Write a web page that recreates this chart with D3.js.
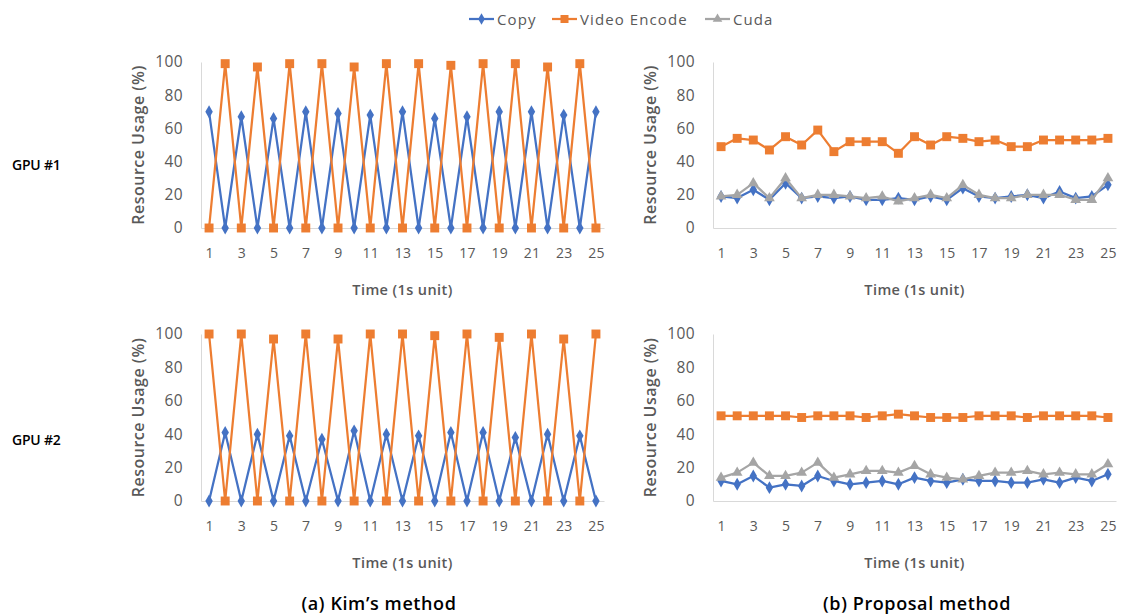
<!DOCTYPE html>
<html><head><meta charset="utf-8">
<script src="https://cdn.jsdelivr.net/npm/d3@7"></script>
<style>
body{margin:0;background:#fff;}
svg text{font-family:"Open Sans","Noto Sans",sans-serif;}
</style></head>
<body><svg id="c" width="1121" height="616"></svg>
<script>
const times = d3.range(1, 26);
const xTickLabels = [1,3,5,7,9,11,13,15,17,19,21,23,25];
const yTicks = [0,20,40,60,80,100];
const seriesNames = ["Copy","Video Encode","Cuda"];

// (a) Kim's method, GPU #1
const kimG1Copy  = [70,0,67,0,66,0,70,0,69,0,68,0,70,0,66,0,67,0,70,0,70,0,68,0,70];
const kimG1Video = [0,99,0,97,0,99,0,99,0,97,0,99,0,99,0,98,0,99,0,99,0,97,0,99,0];
// (a) Kim's method, GPU #2
const kimG2Copy  = [0,41,0,40,0,39,0,37,0,42,0,40,0,39,0,41,0,41,0,38,0,40,0,39,0];
const kimG2Video = [100,0,100,0,97,0,100,0,97,0,100,0,100,0,99,0,100,0,98,0,100,0,97,0,100];
// (b) Proposal method, GPU #1
const propG1Copy  = [19,18,23,17,27,18,19,18,19,17,17,18,17,19,17,24,19,18,19,20,18,22,18,19,26];
const propG1Video = [49,54,53,47,55,50,59,46,52,52,52,45,55,50,55,54,52,53,49,49,53,53,53,53,54];
const propG1Cuda  = [19,20,27,18,30,18,20,20,19,18,19,16,18,20,18,26,20,18,18,20,20,20,17,17,30];
// (b) Proposal method, GPU #2
const propG2Copy  = [12,10,15,8,10,9,15,12,10,11,12,10,14,12,11,13,12,12,11,11,13,11,14,12,16];
const propG2Video = [51,51,51,51,51,50,51,51,51,50,51,52,51,50,50,50,51,51,51,50,51,51,51,51,50];
const propG2Cuda  = [14,17,23,15,15,17,23,14,16,18,18,17,21,16,14,13,15,17,17,18,16,17,16,16,22];

const colors = {"Copy":"#4472C4","Video Encode":"#ED7D31","Cuda":"#A5A5A5"};
const symbols = {"Copy":d3.symbolDiamond,"Video Encode":d3.symbolSquare,"Cuda":d3.symbolTriangle};
const symSize = {"Copy":48,"Video Encode":80,"Cuda":50};
const txtCol = "#595959";

const svg = d3.select("#c");

const panels = [
  {x0:201, x1:604, yTop:62, yBot:228, series:[["Copy",kimG1Copy],["Video Encode",kimG1Video]]},
  {x0:713, x1:1116, yTop:62, yBot:228, series:[["Copy",propG1Copy],["Video Encode",propG1Video],["Cuda",propG1Cuda]]},
  {x0:201, x1:604, yTop:334, yBot:501, series:[["Copy",kimG2Copy],["Video Encode",kimG2Video]]},
  {x0:713, x1:1116, yTop:334, yBot:501, series:[["Copy",propG2Copy],["Video Encode",propG2Video],["Cuda",propG2Cuda]]}
];

panels.forEach(p => {
  const x = d3.scalePoint().domain(times).range([p.x0, p.x1]).padding(0.5);
  const y = d3.scaleLinear().domain([0,100]).range([p.yBot, p.yTop]);
  const g = svg.append("g");

  const ya = g.append("g").attr("transform",`translate(${p.x0},0)`)
    .call(d3.axisLeft(y).tickValues(yTicks).tickSize(0).tickPadding(18));
  ya.select(".domain").attr("stroke","#D9D9D9").attr("stroke-width",1);
  ya.selectAll("text").attr("fill",txtCol).style("font-size","15.5px").style("letter-spacing","0.4px")
    .style("font-family","'Open Sans',sans-serif");

  const xa = g.append("g").attr("transform",`translate(0,${p.yBot})`)
    .call(d3.axisBottom(x).tickValues(xTickLabels).tickSize(0).tickPadding(20));
  xa.select(".domain").attr("stroke","#D9D9D9").attr("stroke-width",1);
  xa.selectAll("text").attr("fill",txtCol).style("font-size","14px").style("letter-spacing","0.3px")
    .style("font-family","'Open Sans',sans-serif");

  g.append("text").attr("x",(p.x0+p.x1)/2).attr("y",p.yBot+67)
    .attr("text-anchor","middle").attr("fill",txtCol).style("font-size","14.5px").style("font-weight","600")
    .style("letter-spacing","0.4px").text("Time (1s unit)");
  const cy = (p.yTop+p.yBot)/2;
  g.append("text").attr("transform",`translate(${p.x0-57},${cy}) rotate(-90)`)
    .attr("text-anchor","middle").attr("fill",txtCol).style("font-size","16px").style("font-weight","600")
    .style("letter-spacing","0.5px").text("Resource Usage (%)");

  const line = d3.line().x((d,i)=>x(times[i])).y(d=>y(d));
  p.series.forEach(([name, vals]) => {
    g.append("path").datum(vals).attr("d",line).attr("fill","none")
      .attr("stroke",colors[name]).attr("stroke-width",2.25).attr("stroke-linejoin","round");
    g.selectAll(null).data(vals).enter().append("path")
      .attr("d",d3.symbol().type(symbols[name]).size(symSize[name]))
      .attr("transform",(d,i)=>`translate(${x(times[i])},${y(d)})`)
      .attr("fill",colors[name]);
  });
});

svg.append("text").attr("x",12).attr("y",170).attr("fill","#000").style("font-size","14px").style("font-weight","600").style("letter-spacing","-0.2px").text("GPU #1");
svg.append("text").attr("x",12).attr("y",445).attr("fill","#000").style("font-size","14px").style("font-weight","600").style("letter-spacing","-0.2px").text("GPU #2");

svg.append("text").attr("x",379).attr("y",610).attr("text-anchor","middle").attr("fill","#000").style("font-size","18px").style("font-weight","600").style("letter-spacing","0.6px").text("(a) Kim\u2019s method");
svg.append("text").attr("x",917).attr("y",610).attr("text-anchor","middle").attr("fill","#000").style("font-size","18px").style("font-weight","600").style("letter-spacing","0.6px").text("(b) Proposal method");

const legendX = [469, 552, 705];
seriesNames.forEach((name,i)=>{
  const lx = legendX[i], ly = 19;
  svg.append("line").attr("x1",lx).attr("x2",lx+25).attr("y1",ly).attr("y2",ly)
    .attr("stroke",colors[name]).attr("stroke-width",2.25);
  svg.append("path").attr("d",d3.symbol().type(symbols[name]).size(symSize[name]*0.8))
    .attr("transform",`translate(${lx+12.5},${ly})`).attr("fill",colors[name]);
  svg.append("text").attr("x",lx+28).attr("y",ly+5.5).attr("fill",txtCol)
    .style("font-size","15px").style("letter-spacing","1.1px").text(name);
});
</script></body></html>
